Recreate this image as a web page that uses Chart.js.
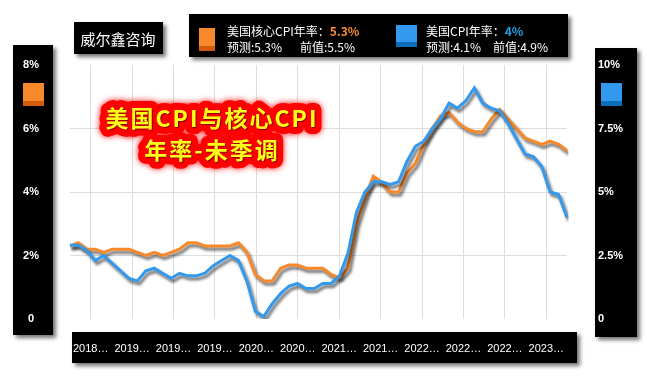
<!DOCTYPE html>
<html>
<head>
<meta charset="utf-8">
<script src="https://cdn.jsdelivr.net/npm/chart.js@4.4.0/dist/chart.umd.min.js"></script>
<style>
  html, body { margin: 0; padding: 0; background: #fff; }
</style>
</head>
<body>
<canvas id="cpi_chart" width="647" height="377"></canvas>
<script>
// 月份 2018-06 ~ 2023-05
const months = [
  '2018-06', '2018-07', '2018-08', '2018-09', '2018-10', '2018-11', '2018-12',
  '2019-01', '2019-02', '2019-03', '2019-04', '2019-05', '2019-06', '2019-07', '2019-08', '2019-09', '2019-10', '2019-11', '2019-12',
  '2020-01', '2020-02', '2020-03', '2020-04', '2020-05', '2020-06', '2020-07', '2020-08', '2020-09', '2020-10', '2020-11', '2020-12',
  '2021-01', '2021-02', '2021-03', '2021-04', '2021-05', '2021-06', '2021-07', '2021-08', '2021-09', '2021-10', '2021-11', '2021-12',
  '2022-01', '2022-02', '2022-03', '2022-04', '2022-05', '2022-06', '2022-07', '2022-08', '2022-09', '2022-10', '2022-11', '2022-12',
  '2023-01', '2023-02', '2023-03', '2023-04', '2023-05'
];

// 美国CPI年率 (右轴)
const cpi = [
  2.9, 2.9, 2.7, 2.3, 2.5, 2.2, 1.9,
  1.6, 1.5, 1.9, 2.0, 1.8, 1.6, 1.8, 1.7, 1.7, 1.8, 2.1, 2.3,
  2.5, 2.3, 1.5, 0.3, 0.1, 0.6, 1.0, 1.3, 1.4, 1.2, 1.2, 1.4,
  1.4, 1.7, 2.6, 4.2, 5.0, 5.4, 5.4, 5.3, 5.4, 6.2, 6.8, 7.0,
  7.5, 7.9, 8.5, 8.3, 8.6, 9.1, 8.5, 8.3, 8.2, 7.7, 7.1, 6.5,
  6.4, 6.0, 5.0, 4.9, 4.0
];

// 美国核心CPI年率 (左轴)
const coreCpi = [
  2.3, 2.4, 2.2, 2.2, 2.1, 2.2, 2.2,
  2.2, 2.1, 2.0, 2.1, 2.0, 2.1, 2.2, 2.4, 2.4, 2.3, 2.3, 2.3,
  2.3, 2.4, 2.1, 1.4, 1.2, 1.2, 1.6, 1.7, 1.7, 1.6, 1.6, 1.6,
  1.4, 1.3, 1.6, 3.0, 3.8, 4.5, 4.3, 4.0, 4.0, 4.6, 4.9, 5.5,
  6.0, 6.4, 6.5, 6.2, 6.0, 5.9, 5.9, 6.3, 6.6, 6.3, 6.0, 5.7,
  5.6, 5.5, 5.6, 5.5, 5.3
];

// 预测值: [核心CPI, CPI]
const forecast = [5.3, 4.1];

const xTickLabels = ['2018…', '2019…', '2019…', '2019…', '2020…', '2020…', '2021…', '2021…', '2022…', '2022…', '2022…', '2023…'];
const titleLines = ['美国CPI与核心CPI', '年率-未季调'];

const ORANGE = '#f7892a';
const BLUE = '#3399ee';

function panel(c, x, y, w, h) {
  c.save();
  c.shadowColor = 'rgba(0,0,0,0.55)';
  c.shadowBlur = 4;
  c.shadowOffsetX = 3;
  c.shadowOffsetY = 3;
  c.fillStyle = '#000';
  c.fillRect(x, y, w, h);
  c.restore();
}

function swatch(c, x, y, w, h, color, dark) {
  c.fillStyle = color;
  c.fillRect(x, y, w, h);
  c.fillStyle = dark;
  c.fillRect(x, y + h - 5, w, 5);
}

// 黑色面板 + 图例方块
const panelsPlugin = {
  id: 'panels',
  beforeDraw(chart) {
    const c = chart.ctx;
    panel(c, 13, 45, 40, 290);   // 左轴
    panel(c, 595, 48, 42, 289);  // 右轴
    panel(c, 72, 332, 505, 31);  // 底部
    panel(c, 74, 22, 89, 32);    // 威尔鑫咨询
    swatch(c, 23, 83, 21, 23, ORANGE, '#d65a0c');
    swatch(c, 601, 83, 21, 23, BLUE, '#0a6fb8');
  },
  afterDraw(chart) {
    const c = chart.ctx;
    c.save();
    c.fillStyle = '#fff';
    c.font = '15px "Noto Sans CJK SC"';
    c.textAlign = 'center';
    c.textBaseline = 'middle';
    c.fillText('威尔鑫咨询', 118, 39);

    // 图例
    panel(c, 189, 14, 379, 43);
    swatch(c, 199, 28, 16, 23, ORANGE, '#d65a0c');
    swatch(c, 396, 25, 21, 22, BLUE, '#0a6fb8');
    c.textAlign = 'left';
    const n = coreCpi.length;
    const items = [
      { x: 227, x2: 300, name: '美国核心CPI年率：', data: coreCpi, f: forecast[0], color: '#ff8c2e' },
      { x: 426, x2: 493, name: '美国CPI年率：', data: cpi, f: forecast[1], color: '#1ea0e6' }
    ];
    items.forEach(it => {
      c.font = '12px "Noto Sans CJK SC"';
      c.fillStyle = '#fff';
      c.fillText(it.name, it.x, 31);
      const w = c.measureText(it.name).width;
      c.font = 'bold 12px "Noto Sans CJK SC"';
      c.fillStyle = it.color;
      c.fillText(it.data[n - 1] + '%', it.x + w, 31);
      c.font = '12px "Noto Sans CJK SC"';
      c.fillStyle = '#fff';
      c.fillText('预测:' + it.f + '%', it.x, 47);
      c.fillText('前值:' + it.data[n - 2] + '%', it.x2, 47);
    });

    // 标题
    c.font = 'bold 23px "Noto Sans CJK SC"';
    c.textAlign = 'center';
    c.lineJoin = 'round';
    try { c.letterSpacing = '2px'; } catch (e) {}
    titleLines.forEach((t, i) => {
      const y = 118 + i * 32;
      c.save();
      c.shadowColor = 'rgba(255,0,0,0.9)';
      c.shadowBlur = 6;
      c.strokeStyle = '#ff0000';
      c.lineWidth = 14;
      c.strokeText(t, 212, y);
      c.restore();
      c.save();
      c.shadowColor = 'rgba(110,0,0,0.8)';
      c.shadowBlur = 1;
      c.shadowOffsetX = 1;
      c.shadowOffsetY = 1;
      c.fillStyle = '#ffff1a';
      c.fillText(t, 212, y);
      c.restore();
    });
    c.restore();
  }
};

// 线条阴影
const lineShadowPlugin = {
  id: 'lineShadow',
  beforeDatasetsDraw(chart) {
    const c = chart.ctx;
    c.save();
    c.shadowColor = 'rgba(0,0,0,0.6)';
    c.shadowBlur = 3;
    c.shadowOffsetX = 2;
    c.shadowOffsetY = 3;
  },
  afterDatasetsDraw(chart) {
    chart.ctx.restore();
  }
};

const tickFont = { family: "'Liberation Sans', sans-serif", size: 11, weight: 'bold' };

const ctx = document.getElementById('cpi_chart').getContext('2d');
const cpi_chart = new Chart(ctx, {
  type: 'line',
  data: {
    labels: months,
    datasets: [
      {
        label: '美国CPI年率',
        data: cpi,
        xAxisID: 'x',
        yAxisID: 'y1',
        borderColor: BLUE,
        borderWidth: 3,
        pointRadius: 0,
        tension: 0
      },
      {
        label: '美国核心CPI年率',
        data: coreCpi,
        xAxisID: 'x',
        yAxisID: 'y',
        borderColor: ORANGE,
        borderWidth: 3,
        pointRadius: 0,
        tension: 0
      }
    ]
  },
  options: {
    responsive: false,
    animation: false,
    layout: { padding: { top: 65, left: 0, right: 0, bottom: 0 } },
    plugins: {
      legend: { display: false },
      tooltip: { enabled: false }
    },
    scales: {
      x: { display: false },
      x2: {
        type: 'category',
        position: 'bottom',
        labels: xTickLabels,
        offset: true,
        grid: { color: '#dddddd', drawTicks: false },
        border: { display: false },
        ticks: {
          color: '#fff',
          font: { family: "'Liberation Sans', sans-serif", size: 11 },
          padding: 23,
          autoSkip: false,
          maxRotation: 0
        },
        afterFit: s => { s.height = 58; }
      },
      y: {
        position: 'left',
        min: 0,
        max: 8,
        grid: {
          color: c => [2, 4, 6].includes(c.tick.value) ? '#dddddd' : 'transparent',
          drawTicks: false
        },
        border: { display: false },
        ticks: {
          stepSize: 2,
          color: '#fff',
          font: tickFont,
          crossAlign: 'center',
          padding: 31,
          callback: v => v === 0 ? '0' : v + '%'
        },
        afterFit: s => { s.width = 70; }
      },
      y1: {
        position: 'right',
        min: 0,
        max: 10,
        grid: { display: false, drawTicks: false },
        border: { display: false },
        ticks: {
          stepSize: 2.5,
          color: '#fff',
          font: tickFont,
          padding: 31,
          callback: v => v === 0 ? '0' : v + '%'
        },
        afterFit: s => { s.width = 80; }
      }
    }
  },
  plugins: [panelsPlugin, lineShadowPlugin]
});
</script>
</body>
</html>
